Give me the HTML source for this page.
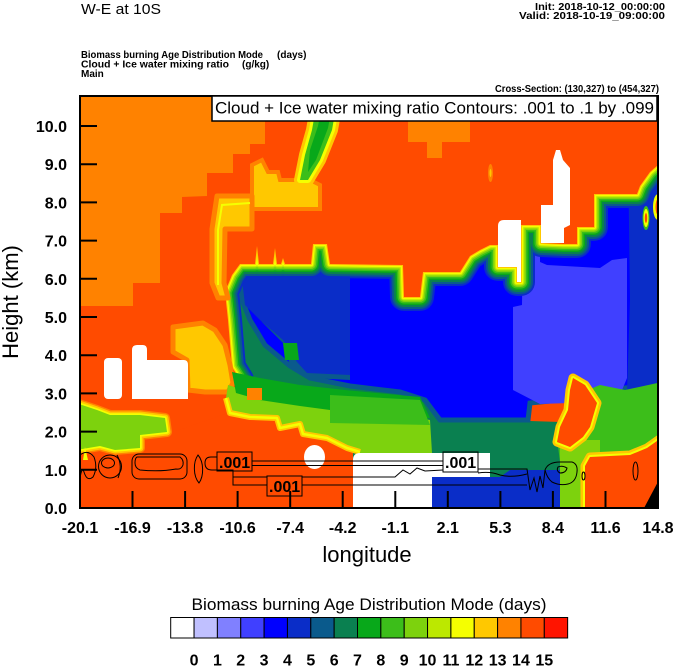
<!DOCTYPE html>
<html><head><meta charset="utf-8"><style>
html,body{margin:0;padding:0;background:#fff;}
svg{display:block;}
</style></head><body>
<svg width="674" height="667" viewBox="0 0 674 667" xmlns="http://www.w3.org/2000/svg" font-family="'Liberation Sans', Arial, sans-serif">
<defs>
<clipPath id="pc"><rect x="80" y="96" width="578" height="412"/></clipPath>
<polygon id="rp" points="60,60 680,60 680,150 662,150 658,165 650,172 640,186 637,194 594,194 594,227 577,227 577,244 564,244 541,243 541,225 521,225 521,282 517,282 517,267 498,267 498,245 490,245 480,250 470,256 460,272 423,272 420,297 404,297 403,265 330,264 327,244 313,244 311,264 285,264 283,258 281,264 277,264 275,248 273,264 259,264 257,246 255,264 240,264 232,275 225,292 228,320 232,367 240,380 238,520 60,520"/>
<polygon id="lg" points="76,403 97,410 110,415 140,415 165,418 167,432 140,435 140,448 115,450 100,446 76,450"/>
<polygon id="rb" points="573,378 585,385 597,403 590,427 583,437 570,447 557,442 560,427 568,410 570,390"/>
<polygon id="br" points="585,520 585,466 590,457 630,455 647,448 664,436 664,520"/>
<polygon id="st" points="318,96 338,96 332,130 320,160 308,180 300,180 305,155 312,130"/>
<polyline id="gf" points="226,398 230,413 250,417 277,418 280,428 300,424 303,434 327,438 347,448 360,452"/>
</defs>
<rect width="674" height="667" fill="#fff"/>

<!-- header -->
<text x="81" y="14" font-size="15" textLength="80" lengthAdjust="spacingAndGlyphs">W-E at 10S</text>
<text x="535" y="10" font-size="10" font-weight="bold" textLength="130" lengthAdjust="spacingAndGlyphs">Init: 2018-10-12_00:00:00</text>
<text x="519" y="19" font-size="10" font-weight="bold" textLength="146" lengthAdjust="spacingAndGlyphs">Valid: 2018-10-19_09:00:00</text>
<text x="81" y="58" font-size="10" font-weight="bold" textLength="182" lengthAdjust="spacingAndGlyphs">Biomass burning Age Distribution Mode</text>
<text x="277" y="58" font-size="10" font-weight="bold">(days)</text>
<text x="81" y="67.5" font-size="10" font-weight="bold" textLength="148" lengthAdjust="spacingAndGlyphs">Cloud + Ice water mixing ratio</text>
<text x="242" y="67.5" font-size="10" font-weight="bold">(g/kg)</text>
<text x="81" y="77" font-size="10" font-weight="bold">Main</text>
<text x="495" y="92" font-size="10" font-weight="bold" textLength="164" lengthAdjust="spacingAndGlyphs">Cross-Section: (130,327) to (454,327)</text>

<g clip-path="url(#pc)">
<rect x="80" y="96" width="578" height="412" fill="#ff4b00"/>
<!-- dark green zone -->
<polygon fill="#0a8050" points="222,270 360,270 360,382 420,392 440,418 560,422 600,425 600,480 230,480 222,400"/>
<!-- blue base -->
<polygon fill="#0000ff" stroke="#0a5a8c" stroke-width="5" points="242,140 662,140 662,385 625,388 610,395 530,403 528,420 440,420 425,400 400,392 350,386 310,378 290,366 265,345 250,320 242,300"/>
<!-- teal + dark blue left -->
<polygon fill="#0a5a8c" points="236,270 350,270 350,380 310,378 290,366 285,345 262,322 250,300 236,290"/>
<polygon fill="#0a2dc8" points="240,262 350,262 350,375 307,373 297,362 283,340 260,320 245,305"/>
<polygon fill="#08a81a" points="283,343 297,343 299,360 285,360"/>
<!-- dark blue right -->
<polygon fill="#0a2dc8" points="628,150 662,150 662,392 627,392 630,300"/>
<!-- light blue -->
<polygon fill="#4040ff" points="523,240 540,240 540,262 547,265 600,268 612,260 627,258 627,378 620,395 600,402 540,404 513,390 513,307 522,305"/>
<!-- right lower greens -->
<polygon fill="#3cbe1a" points="575,395 600,385 625,390 662,382 662,462 560,462 556,430"/>
<polygon fill="#7dd20d" points="560,440 600,440 600,512 560,512"/>

<!-- upper red region with fringe -->
<g fill="none" stroke-linejoin="round">
<use href="#rp" stroke="#0a2dc8" stroke-width="28"/>
<use href="#rp" stroke="#0a5a8c" stroke-width="24"/>
<use href="#rp" stroke="#0a8050" stroke-width="20"/>
<use href="#rp" stroke="#08a81a" stroke-width="16"/>
<use href="#rp" stroke="#3cbe1a" stroke-width="13"/>
<use href="#rp" stroke="#7dd20d" stroke-width="10"/>
<use href="#rp" stroke="#bce800" stroke-width="7"/>
<use href="#rp" stroke="#f5ff00" stroke-width="4.5"/>
<use href="#rp" stroke="#ffc800" stroke-width="2"/>
</g>
<use href="#rp" fill="#ff4b00" stroke="none"/>

<!-- top-left orange -->
<polygon fill="#ff8200" points="80,96 265,96 265,144 250,144 250,154 233,154 233,173 207,173 207,196 182,197 182,213 160,213 160,283 133,283 133,306 80,306"/>
<!-- yellow regions top -->
<polygon fill="#ffc800" stroke="#ff8200" stroke-width="4" points="252,165 262,160 268,172 278,172 280,180 298,180 300,165 310,180 320,185 320,209 252,209"/>
<polygon fill="#ffc800" stroke="#ff8200" stroke-width="5" stroke-linejoin="round" points="217,196 252,196 252,229 225,229 224,283 228,298 218,298 212,283 212,229"/>
<polyline fill="none" stroke="#f5ff00" stroke-width="2" points="250,203 222,205 218,230 218,285"/>
<!-- streak -->
<use href="#st" fill="none" stroke="#ffc800" stroke-width="12" stroke-linejoin="round"/>
<use href="#st" fill="none" stroke="#f5ff00" stroke-width="6" stroke-linejoin="round"/>
<use href="#st" fill="#3cbe1a" stroke="none"/>
<polygon fill="#08a81a" points="324,96 334,96 328,128 316,160 308,172 310,150 318,126"/>
<!-- orange patch top middle -->
<polygon fill="#ff8200" points="408,96 470,96 470,142 442,142 442,158 427,158 427,142 408,142"/>
<ellipse cx="490.5" cy="173" rx="2.5" ry="9" fill="#ff8200"/>
<ellipse cx="490.5" cy="173" rx="1" ry="4" fill="#ffc800"/>
<!-- right edge spots -->
<ellipse cx="646" cy="218" rx="3.5" ry="12" fill="#3cbe1a"/>
<ellipse cx="646" cy="218" rx="2.5" ry="9" fill="#f5ff00"/>
<ellipse cx="646" cy="218" rx="1.2" ry="5" fill="#ff4b00"/>
<ellipse cx="658" cy="207" rx="5" ry="13" fill="#f5ff00"/>
<ellipse cx="658" cy="207" rx="2.5" ry="8" fill="#ff4b00"/>

<!-- left yellow patch -->
<polygon fill="#ffc800" stroke="#ff8200" stroke-width="5" stroke-linejoin="round" points="173,327 203,323 215,330 225,345 230,365 233,383 228,392 205,392 188,390 187,360 173,352"/>

<!-- lower middle greens -->
<polygon fill="#7dd20d" points="228,385 260,395 300,400 345,405 430,420 432,453 353,453 347,447 327,437 303,433 300,423 280,427 277,417 250,416 230,413 226,398"/>
<polygon fill="#08a81a" points="232,372 260,378 300,385 345,390 420,397 430,418 345,412 300,406 260,400 236,393"/>
<polygon fill="#3cbe1a" points="330,395 420,400 430,425 330,423"/>
<polygon fill="#ff8200" points="247,388 262,388 262,400 247,400"/>

<!-- bottom-left red -->
<polygon fill="#ff4b00" points="60,445 150,440 228,413 250,417 277,418 280,428 300,424 303,434 327,438 347,448 353,453 353,520 60,520"/>
<use href="#gf" fill="none" stroke="#ffc800" stroke-width="6" stroke-linejoin="round"/>
<use href="#gf" fill="none" stroke="#f5ff00" stroke-width="2.5" stroke-linejoin="round"/>

<!-- left green blob -->
<use href="#lg" fill="none" stroke="#ff8200" stroke-width="10" stroke-linejoin="round"/>
<use href="#lg" fill="none" stroke="#ffc800" stroke-width="7" stroke-linejoin="round"/>
<use href="#lg" fill="none" stroke="#f5ff00" stroke-width="3.5" stroke-linejoin="round"/>
<use href="#lg" fill="#7dd20d" stroke="none"/>
<polygon fill="#f5ff00" points="83,460 85,447 88,460"/>

<!-- red blob lower right -->
<use href="#rb" fill="none" stroke="#ffc800" stroke-width="9" stroke-linejoin="round"/>
<use href="#rb" fill="none" stroke="#f5ff00" stroke-width="4" stroke-linejoin="round"/>
<use href="#rb" fill="#ff4b00" stroke="none"/>
<!-- bottom right red -->
<use href="#br" fill="none" stroke="#ffc800" stroke-width="9" stroke-linejoin="round"/>
<use href="#br" fill="none" stroke="#f5ff00" stroke-width="4" stroke-linejoin="round"/>
<use href="#br" fill="#ff4b00" stroke="none"/>
<polygon fill="#000" points="643,510 660,478 660,510"/>

<!-- bottom blue -->
<polygon fill="#0a2dc8" points="432,477 500,477 510,470 560,470 560,510 432,510"/>
<!-- whites -->
<path fill="#fff" d="M353,510 V460 Q353,453 360,453 H490 V477 H432 V510 Z"/>
<ellipse cx="314.5" cy="457" rx="10.5" ry="12" fill="#fff"/>
<rect x="104" y="358" width="18" height="41" rx="4" fill="#fff"/>
<path fill="#fff" d="M132,399 V350 Q132,345 137,345 H143 Q147,345 147,350 V360 H184 Q188,360 188,365 V399 Z"/>
<path fill="#fff" d="M498,267 V226 Q498,220 504,220 H521 V282 H517 V267 Z"/>
<path fill="#fff" d="M541,243 V205 H553 V160 L556,150 L560,150 L563,160 L570,168 V225 L564,228 V243 Z"/>

<!-- contours -->
<g fill="none" stroke="#000" stroke-width="1">
<path d="M80,455 Q88,449 94,457 Q98,468 93,477 Q87,482 84,472 Q82,466 80,478"/>
<ellipse cx="110" cy="466.5" rx="11.5" ry="11.5"/>
<ellipse cx="108" cy="463" rx="6.5" ry="5"/>
<path d="M117,455 Q123,466 118,478"/>
<rect x="132" y="454" width="55" height="25" rx="7"/>
<path d="M137,457 H180 Q184,460 183,465 Q181,470 176,469 Q160,472 140,470 Q135,468 135,463 Q135,458 137,457 Z"/>
<path d="M198,455 C204,462 204,476 199,483 C193,476 193,462 198,455 Z"/>
<path d="M217,457 H211 Q205,457 205,463 Q205,470 212,470 H233 V485 H267"/>
<path d="M233,477 H267"/>
<path d="M252,461 H443"/>
<path d="M252,465.5 H443"/>
<path d="M302,477 H395 L403,470 L410,474 L417,468 L425,471 L443,470"/>
<path d="M302,485 H527"/>
<path d="M478,469 H527 L530,490 L534,478 L537,492 L540,476 L543,488 L545,470"/>
<path d="M478,473 Q490,471 500,475 Q512,478 527,474"/>
<path d="M545,470 Q548,462 560,462 H572 Q578,464 577,472 Q576,482 568,484 Q560,486 552,482 Q547,478 545,470 Z"/>
<path d="M558,467 Q562,465 567,468 Q566,473 560,473 Q556,471 558,467 Z"/>
<ellipse cx="583.5" cy="476" rx="1.5" ry="4"/>
<ellipse cx="635.5" cy="471" rx="2.5" ry="9"/>
<rect x="217" y="452" width="35" height="19"/>
<rect x="267" y="476" width="35" height="20"/>
<rect x="443" y="452" width="35" height="20"/>
</g>
<g font-size="16" font-weight="bold">
<text x="219" y="468">.001</text>
<text x="269" y="492">.001</text>
<text x="445" y="468">.001</text>
</g>
</g>

<!-- frame -->
<rect x="80" y="96" width="578" height="412" fill="none" stroke="#000" stroke-width="2"/>
<g stroke="#000" stroke-width="2">
<line x1="80" y1="469.8" x2="97" y2="469.8"/>
<line x1="80" y1="431.6" x2="97" y2="431.6"/>
<line x1="80" y1="393.4" x2="97" y2="393.4"/>
<line x1="80" y1="355.2" x2="97" y2="355.2"/>
<line x1="80" y1="317" x2="97" y2="317"/>
<line x1="80" y1="278.8" x2="97" y2="278.8"/>
<line x1="80" y1="240.6" x2="97" y2="240.6"/>
<line x1="80" y1="202.4" x2="97" y2="202.4"/>
<line x1="80" y1="164.2" x2="97" y2="164.2"/>
<line x1="80" y1="126" x2="97" y2="126"/>
<line x1="132.5" y1="491" x2="132.5" y2="508"/>
<line x1="185.1" y1="491" x2="185.1" y2="508"/>
<line x1="237.6" y1="491" x2="237.6" y2="508"/>
<line x1="290.2" y1="491" x2="290.2" y2="508"/>
<line x1="342.7" y1="491" x2="342.7" y2="508"/>
<line x1="395.3" y1="491" x2="395.3" y2="508"/>
<line x1="447.8" y1="491" x2="447.8" y2="508"/>
<line x1="500.4" y1="491" x2="500.4" y2="508"/>
<line x1="552.9" y1="491" x2="552.9" y2="508"/>
<line x1="605.5" y1="491" x2="605.5" y2="508"/>
</g>

<!-- y tick labels -->
<g font-size="16" font-weight="bold" text-anchor="end">
<text x="67" y="514">0.0</text>
<text x="67" y="475.8">1.0</text>
<text x="67" y="437.6">2.0</text>
<text x="67" y="399.4">3.0</text>
<text x="67" y="361.2">4.0</text>
<text x="67" y="323">5.0</text>
<text x="67" y="284.8">6.0</text>
<text x="67" y="246.6">7.0</text>
<text x="67" y="208.4">8.0</text>
<text x="67" y="170.2">9.0</text>
<text x="67" y="132">10.0</text>
</g>
<!-- x tick labels -->
<g font-size="16" font-weight="bold" text-anchor="middle">
<text x="80" y="533">-20.1</text>
<text x="132.5" y="533">-16.9</text>
<text x="185.1" y="533">-13.8</text>
<text x="237.6" y="533">-10.6</text>
<text x="290.2" y="533">-7.4</text>
<text x="342.7" y="533">-4.2</text>
<text x="395.3" y="533">-1.1</text>
<text x="447.8" y="533">2.1</text>
<text x="500.4" y="533">5.3</text>
<text x="552.9" y="533">8.4</text>
<text x="605.5" y="533">11.6</text>
<text x="658" y="533">14.8</text>
</g>
<text x="367" y="562" font-size="22" text-anchor="middle">longitude</text>
<text transform="translate(18,302) rotate(-90)" font-size="22" text-anchor="middle">Height (km)</text>

<!-- legend box -->
<rect x="212" y="96" width="445" height="25" fill="#fff" stroke="#000" stroke-width="1.5"/>
<text x="215" y="113.5" font-size="17" textLength="439" lengthAdjust="spacingAndGlyphs">Cloud + Ice water mixing ratio Contours: .001 to .1 by .099</text>

<!-- colorbar -->
<text x="369" y="610" font-size="17" text-anchor="middle" textLength="355" lengthAdjust="spacingAndGlyphs">Biomass burning Age Distribution Mode  (days)</text>
<g stroke="#000" stroke-width="1">
<rect x="170.7" y="617.5" width="23.35" height="20.5" fill="#ffffff"/>
<rect x="194.05" y="617.5" width="23.35" height="20.5" fill="#c0c0ff"/>
<rect x="217.4" y="617.5" width="23.35" height="20.5" fill="#8080ff"/>
<rect x="240.75" y="617.5" width="23.35" height="20.5" fill="#4040ff"/>
<rect x="264.1" y="617.5" width="23.35" height="20.5" fill="#0000ff"/>
<rect x="287.45" y="617.5" width="23.35" height="20.5" fill="#0a2dc8"/>
<rect x="310.8" y="617.5" width="23.35" height="20.5" fill="#0a5a8c"/>
<rect x="334.15" y="617.5" width="23.35" height="20.5" fill="#0a8050"/>
<rect x="357.5" y="617.5" width="23.35" height="20.5" fill="#08a81a"/>
<rect x="380.85" y="617.5" width="23.35" height="20.5" fill="#3cbe1a"/>
<rect x="404.2" y="617.5" width="23.35" height="20.5" fill="#7dd20d"/>
<rect x="427.55" y="617.5" width="23.35" height="20.5" fill="#bce800"/>
<rect x="450.9" y="617.5" width="23.35" height="20.5" fill="#f5ff00"/>
<rect x="474.25" y="617.5" width="23.35" height="20.5" fill="#ffc800"/>
<rect x="497.6" y="617.5" width="23.35" height="20.5" fill="#ff8200"/>
<rect x="520.95" y="617.5" width="23.35" height="20.5" fill="#ff4b00"/>
<rect x="544.3" y="617.5" width="23.35" height="20.5" fill="#ff1400"/>
</g>
<g font-size="16" font-weight="bold" text-anchor="middle">
<text x="194.05" y="665.5">0</text>
<text x="217.4" y="665.5">1</text>
<text x="240.75" y="665.5">2</text>
<text x="264.1" y="665.5">3</text>
<text x="287.45" y="665.5">4</text>
<text x="310.8" y="665.5">5</text>
<text x="334.15" y="665.5">6</text>
<text x="357.5" y="665.5">7</text>
<text x="380.85" y="665.5">8</text>
<text x="404.2" y="665.5">9</text>
<text x="427.55" y="665.5">10</text>
<text x="450.9" y="665.5">11</text>
<text x="474.25" y="665.5">12</text>
<text x="497.6" y="665.5">13</text>
<text x="520.95" y="665.5">14</text>
<text x="544.3" y="665.5">15</text>
</g>
</svg>
</body></html>
